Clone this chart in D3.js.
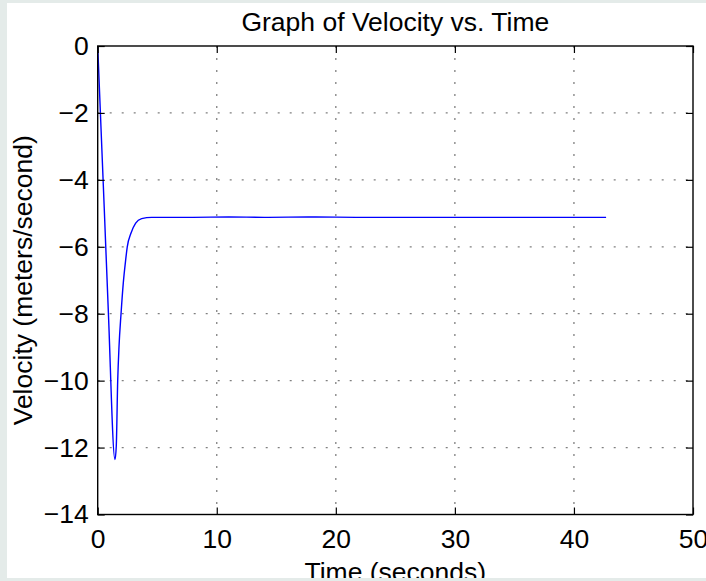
<!DOCTYPE html>
<html>
<head>
<meta charset="utf-8">
<script src="https://cdn.jsdelivr.net/npm/d3@7"></script>
<style>
  html, body { margin: 0; padding: 0; background: #e4ebe9; }
  svg { display: block; }
  text { font-family: "Liberation Sans", Helvetica, Arial, sans-serif; fill: #000; }
</style>
</head>
<body>
<svg id="chart" width="706" height="581"></svg>
<script>
// data
const timeSec = [0, 0.55, 0.89, 1.45, 1.56, 1.68, 1.79, 1.96, 2.15, 2.35, 2.48, 2.8, 3.19, 3.69, 4.53, 6, 8, 11, 14, 18, 22, 26, 30, 34, 38, 42.7];
const velocity = [0, -4.85, -7.9, -12.36, -11.96, -10.0, -8.98, -8.0, -7.08, -6.39, -6.01, -5.59, -5.29, -5.16, -5.12, -5.12, -5.12, -5.11, -5.12, -5.11, -5.12, -5.12, -5.12, -5.12, -5.12, -5.12];
const xTicks = [0, 10, 20, 30, 40, 50];
const yTicks = [0, -2, -4, -6, -8, -10, -12, -14];

const fontSize = '26.5px';
const svg = d3.select('#chart');

// white figure panel
svg.append('rect')
  .attr('x', 7).attr('y', 3)
  .attr('width', 699).attr('height', 575)
  .attr('fill', '#fff');

const margin = { top: 46, right: 13, bottom: 66.5, left: 97.7 };
const width = 706 - margin.left - margin.right;
const height = 581 - margin.top - margin.bottom;

const x = d3.scaleLinear().domain([0, 50]).range([0, width]);
const y = d3.scaleLinear().domain([-14, 0]).range([height, 0]);

const g = svg.append('g').attr('transform', `translate(${margin.left},${margin.top})`);

// dotted grid
g.append('g').selectAll('line')
  .data(xTicks.slice(1, -1))
  .enter().append('line')
  .attr('x1', d => x(d)).attr('x2', d => x(d))
  .attr('y1', 0).attr('y2', height)
  .attr('stroke', '#808080').attr('stroke-width', 1.3)
  .attr('stroke-dasharray', '2,10');

g.append('g').selectAll('line')
  .data(yTicks.slice(1, -1))
  .enter().append('line')
  .attr('x1', 0).attr('x2', width)
  .attr('y1', d => y(d)).attr('y2', d => y(d))
  .attr('stroke', '#808080').attr('stroke-width', 1.3)
  .attr('stroke-dasharray', '2,10');

// the curve
const pts = timeSec.map((t, i) => [t, velocity[i]]);
g.append('path')
  .datum(pts)
  .attr('fill', 'none')
  .attr('stroke', '#0000ff')
  .attr('stroke-width', 1.4)
  .attr('stroke-linejoin', 'round')
  .attr('d', d3.line().x(d => x(d[0])).y(d => y(d[1])).curve(d3.curveMonotoneX));

// axes, inward ticks on all four sides (box)
const tickLen = 7;
const styleAxis = sel => {
  sel.select('.domain').remove();
  sel.selectAll('line').attr('stroke', '#000').attr('stroke-width', 1.2);
  sel.selectAll('text').style('font-size', fontSize).attr('fill', '#000');
};

g.append('g')
  .attr('transform', `translate(0,${height})`)
  .call(d3.axisBottom(x).tickValues(xTicks).tickSizeInner(-tickLen).tickSizeOuter(0).tickPadding(15).tickFormat(d3.format('d')))
  .call(styleAxis);

g.append('g')
  .call(d3.axisTop(x).tickValues(xTicks).tickSizeInner(-tickLen).tickSizeOuter(0).tickFormat(''))
  .call(styleAxis);

g.append('g')
  .call(d3.axisLeft(y).tickValues(yTicks).tickSizeInner(-tickLen).tickSizeOuter(0).tickPadding(9)
    .tickFormat(d => d < 0 ? '\u2212' + Math.abs(d) : d))
  .call(styleAxis);

g.append('g')
  .attr('transform', `translate(${width},0)`)
  .call(d3.axisRight(y).tickValues(yTicks).tickSizeInner(-tickLen).tickSizeOuter(0).tickFormat(''))
  .call(styleAxis);

// box
g.append('rect')
  .attr('width', width).attr('height', height)
  .attr('fill', 'none').attr('stroke', '#000').attr('stroke-width', 1.4);

// titles
svg.append('text')
  .attr('x', margin.left + width / 2).attr('y', 31)
  .attr('text-anchor', 'middle')
  .style('font-size', fontSize)
  .text('Graph of Velocity vs. Time');

svg.append('text')
  .attr('x', margin.left + width / 2).attr('y', 580.5)
  .attr('text-anchor', 'middle')
  .style('font-size', fontSize)
  .text('Time (seconds)');

svg.append('text')
  .attr('transform', `translate(32,${margin.top + height / 2}) rotate(-90)`)
  .attr('text-anchor', 'middle')
  .style('font-size', fontSize)
  .text('Velocity (meters/second)');

// gray strip at bottom covers the clipped label
svg.append('rect')
  .attr('x', 0).attr('y', 578)
  .attr('width', 706).attr('height', 3)
  .attr('fill', '#e4ebe9');
</script>
</body>
</html>
